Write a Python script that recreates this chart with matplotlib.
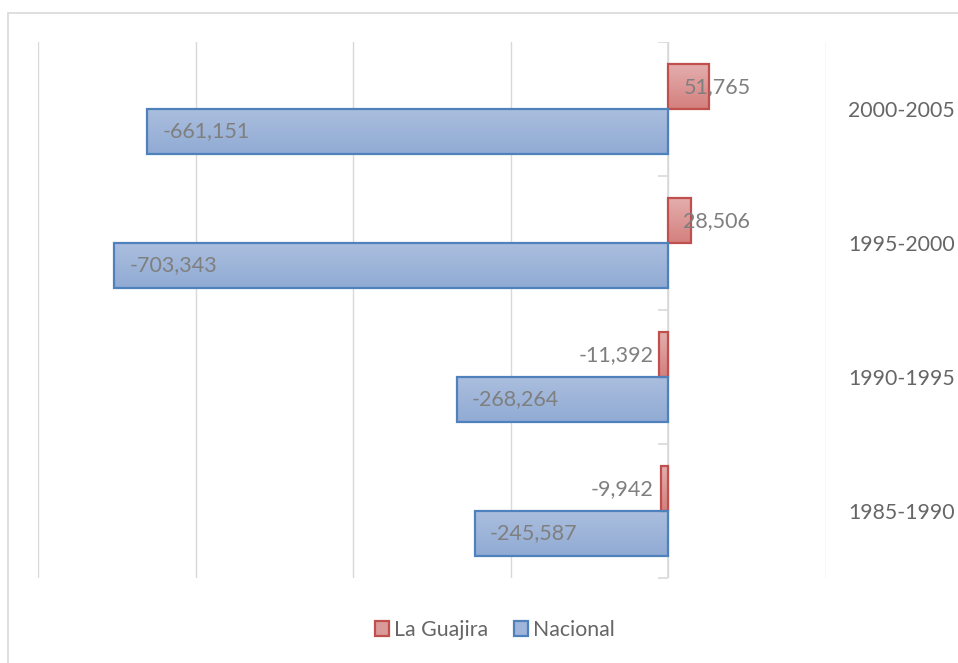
import numpy as np
import matplotlib.pyplot as plt
from matplotlib.patches import Rectangle, Patch
from matplotlib.colors import LinearSegmentedColormap
import matplotlib.transforms as mtransforms

periods = ['1985-1990', '1990-1995', '1995-2000', '2000-2005']
guajira = [-9942, -11392, 28506, 51765]
nacional = [-245587, -268264, -703343, -661151]
series_names = ['La Guajira', 'Nacional']

plt.rcParams['font.family'] = ['Lato', 'DejaVu Sans']

fig = plt.figure(figsize=(9.58, 6.63), dpi=100)
W, H = 958, 663
# outer chart frame
fig.patches.append(Rectangle((8 / W, -0.1), 1.1, 1 - 13 / H + 0.1, transform=fig.transFigure,
                             fill=False, edgecolor='#D9D9D9', linewidth=1.2))
ax = fig.add_axes([38 / W, 1 - 578 / H, (826 - 38) / W, (578 - 42) / H])

ax.set_xlim(-800000, 200000)
ax.set_ylim(-0.5, len(periods) - 0.5)
ax.set_xticks(np.arange(-800000, 200001, 200000))
ax.xaxis.grid(True, color='#D9D9D9', linewidth=1)
ax.set_axisbelow(True)
ax.tick_params(axis='x', length=0, labelbottom=False)
for s in ax.spines.values():
    s.set_visible(False)

# zero axis line with category ticks
ax.axvline(0, color='#D9D9D9', linewidth=1.2, zorder=1)
ax.plot(np.zeros(len(periods) + 1), np.arange(len(periods) + 1) - 0.5, linestyle='none',
        marker=0, markersize=7, markeredgewidth=1.2, color='#D9D9D9', zorder=1)

ax.yaxis.tick_right()
ax.set_yticks(range(len(periods)))
ax.set_yticklabels(periods, fontsize=15.3, color='#666666')
ax.tick_params(axis='y', length=0, pad=16)

h = 0.333
styles = [
    (guajira, h / 2, '#C0504D', ['#E3AEAD', '#D4807E']),
    (nacional, -h / 2, '#4F81BD', ['#AABEDE', '#91ABD4']),
]
for vals, off, edge, grad in styles:
    cmap = LinearSegmentedColormap.from_list('g', grad)
    bars = ax.barh(np.arange(len(vals)) + off, vals, height=h, color='none',
                   edgecolor=edge, linewidth=1.6, zorder=3)
    for b in bars:
        x0, y0, bw, bh = b.get_x(), b.get_y(), b.get_width(), b.get_height()
        im = ax.imshow(np.linspace(0, 1, 50).reshape(-1, 1), cmap=cmap, aspect='auto',
                       extent=(min(x0, x0 + bw), max(x0, x0 + bw), y0, y0 + bh),
                       origin='upper', zorder=2)
        im.set_clip_path(b)
    for b, v in zip(bars, vals):
        yc = b.get_y() + b.get_height() / 2
        txt = f'{v:,}'
        if v >= 0:
            x, ha, dx = 0, 'left', 15
        elif abs(v) > 100000:
            x, ha, dx = v, 'left', 15
        else:
            x, ha, dx = 0, 'right', -15
        tr = ax.transData + mtransforms.ScaledTranslation(dx / 100, 0, fig.dpi_scale_trans)
        ax.text(x, yc, txt, transform=tr, ha=ha, va='center', fontsize=15.5,
                color='#7F7F7F', zorder=4)

ax.set_aspect('auto')
handles = [Patch(facecolor='#DA9A99', edgecolor='#C0504D', linewidth=1.6, label=series_names[0]),
           Patch(facecolor='#9FB5DA', edgecolor='#4F81BD', linewidth=1.6, label=series_names[1])]
fig.legend(handles=handles, loc='center', bbox_to_anchor=(495 / W, 1 - 630 / H), ncol=2,
           frameon=False, fontsize=15.3, labelcolor='#666666', handlelength=0.65,
           handleheight=0.65, handletextpad=0.25, columnspacing=1.2)

fig.savefig('out.png', dpi=100)
